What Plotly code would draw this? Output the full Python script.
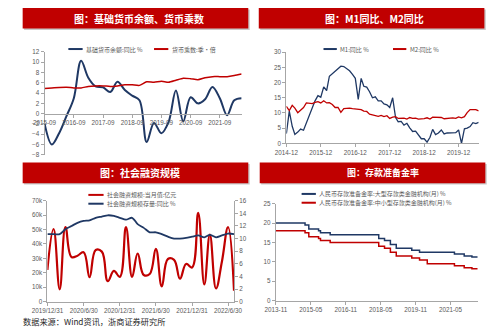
import plotly.graph_objects as go

W, H = 500, 333
NAVY = "#1F3864"
RED = "#C00000"
AXIS = "#A6A6A6"
TICKC = "#595959"
CJK = "Noto Sans CJK SC"
LAT = "Liberation Sans"


def months(y, m, n, step=1):
    out = []
    for _ in range(n):
        out.append(f"{y}-{m:02d}")
        m += step
        while m > 12:
            m -= 12
            y += 1
    return out


# ---- 基础货币余额、货币乘数 (quarterly, 2015-09 .. 2022-06)
base_yoy = [-1.9, -6.0, -3.8, -0.5, 3.0, 10.3, 7.0, 5.3, 5.1, 4.2, 6.2, 4.6, 3.5, 2.6,
            -5.5, -1.8, -3.8, -1.6, 4.5, -1.5, 3.2, 2.0, 2.8, 5.2, 3.0, -0.3, 2.6, 3.0]
multiplier = [4.9, 5.0, 5.1, 5.15, 5.0, 5.0, 5.3, 5.4, 5.4, 5.3, 5.4, 5.6, 5.6, 5.5,
              6.2, 6.1, 6.3, 6.1, 6.5, 6.9, 6.8, 6.6, 7.0, 7.2, 7.2, 7.2, 7.4, 7.7]
p1_dates = months(2015, 9, len(base_yoy), 3)
p1_ticks = ["2015-09", "2016-09", "2017-09", "2018-09", "2019-09", "2020-09", "2021-09"]

# ---- M1 / M2 同比 (monthly, 2014-12 .. 2020-07)
m1_yoy = [3.2,
          10.6, 5.6, 2.9, 3.7, 4.7, 4.3, 6.6, 9.3, 11.4, 14.0, 15.7, 15.2,
          18.6, 17.4, 22.1, 22.9, 23.7, 24.6, 25.4, 25.3, 24.7, 23.9, 22.7, 21.4,
          14.5, 21.4, 18.8, 18.5, 17.0, 15.0, 15.3, 14.0, 14.0, 13.0, 12.7, 11.8,
          15.0, 8.5, 7.1, 7.2, 6.0, 6.6, 5.1, 3.9, 4.0, 2.7, 1.5, 1.5,
          0.4, 2.0, 4.6, 2.9, 3.4, 4.4, 3.1, 3.4, 3.4, 3.3, 3.5, 4.4,
          0.0, 4.8, 5.0, 5.5, 6.8, 6.5, 6.9]
m2_yoy = [12.2,
          10.8, 12.5, 11.6, 10.1, 10.8, 11.8, 13.3, 13.3, 13.1, 13.5, 13.7, 13.3,
          14.0, 13.3, 13.4, 12.8, 11.8, 11.8, 10.2, 11.4, 11.5, 11.6, 11.4, 11.3,
          11.3, 11.1, 10.6, 10.5, 9.6, 9.4, 9.2, 8.9, 9.2, 8.8, 9.1, 8.2,
          8.6, 8.8, 8.2, 8.3, 8.3, 8.0, 8.5, 8.2, 8.3, 8.0, 8.0, 8.1,
          8.4, 8.0, 8.6, 8.5, 8.5, 8.5, 8.1, 8.2, 8.4, 8.4, 8.2, 8.7,
          8.4, 8.8, 10.1, 11.1, 11.1, 11.1, 10.7]
p2_dates = months(2014, 12, len(m1_yoy))
p2_ticks = ["2014-12", "2015-12", "2016-12", "2017-12", "2018-12", "2019-12"]

# ---- 社会融资规模 (monthly, 2019-12 .. 2022-07)
tsf_flow = [22000,
            50400, 8554, 51800, 30900, 31900, 34300, 16900, 35800, 34700, 14200, 21300, 17200,
            51700, 17100, 33400, 18500, 19200, 36700, 10600, 29600, 29000, 15900, 26100, 23700,
            61700, 11900, 46500, 9100, 27900, 51700, 7561]
tsf_yoy = [10.7,
           10.7, 10.7, 11.5, 12.0, 12.5, 12.8, 12.9, 13.3, 13.5, 13.7, 13.6, 13.3,
           13.0, 13.3, 12.3, 11.7, 11.0, 11.0, 10.7, 10.3, 10.0, 10.0, 10.1, 10.3,
           10.5, 10.2, 10.6, 10.2, 10.5, 10.8, 10.7]
p3_dates = months(2019, 12, len(tsf_flow))
p3_tickvals = ["2019-12", "2020-06", "2020-12", "2021-06", "2021-12", "2022-06"]
p3_ticktext = ["2019/12/31", "2020/6/30", "2020/12/31", "2021/6/30", "2021/12/31", "2022/6/30"]

# ---- 存款准备金率 (step changes, 2013-11 .. 2022-07)
rrr_large_dates = ["2013-11", "2015-02", "2015-04", "2015-09", "2015-10", "2016-03", "2018-04",
                   "2018-07", "2018-10", "2019-01", "2019-09", "2020-01", "2021-07", "2021-12",
                   "2022-04", "2022-07"]
rrr_large = [20, 19.5, 18.5, 18, 17.5, 17, 16, 15.5, 14.5, 13.5, 13, 12.5, 12, 11.5, 11.25, 11.25]
rrr_small_dates = ["2013-11", "2015-02", "2015-04", "2015-09", "2015-10", "2016-03", "2018-04",
                   "2018-07", "2018-10", "2019-01", "2019-09", "2020-01", "2020-05", "2021-07",
                   "2021-12", "2022-04", "2022-07"]
rrr_small = [18, 17.5, 16.5, 16, 15.5, 15, 14, 13.5, 12.5, 11.5, 11, 10.5, 9.5, 9, 8.5, 8.25, 8.25]
p4_ticks = ["2013-11", "2015-05", "2016-11", "2018-05", "2019-11", "2021-05"]

titles = ["图：基础货币余额、货币乘数", "图：M1同比、M2同比", "图：社会融资规模", "图：存款准备金率"]
names = {
    "base": "基础货币余额:同比 %", "mult": "货币乘数:季·倍",
    "m1": "M1:同比 %", "m2": "M2:同比 %",
    "flow": "社会融资规模:当月值:亿元", "stock": "社会融资规模存量:同比 %",
    "large": "人民币存款准备金率:大型存款类金融机构(月) %",
    "small": "人民币存款准备金率:中小型存款类金融机构(月) %",
}


def X(px):
    return px / W


def Y(py):
    return 1 - py / H


fig = go.Figure()

fig.add_trace(go.Scatter(x=p1_dates, y=base_yoy, mode="lines", name=names["base"],
                         line=dict(color=NAVY, width=2, shape="spline", smoothing=1.0),
                         xaxis="x", yaxis="y"))
fig.add_trace(go.Scatter(x=p1_dates, y=multiplier, mode="lines", name=names["mult"],
                         line=dict(color=RED, width=1.5, shape="spline", smoothing=0.6),
                         xaxis="x", yaxis="y"))
fig.add_trace(go.Scatter(x=p2_dates, y=m1_yoy, mode="lines", name=names["m1"],
                         line=dict(color=NAVY, width=1.3), xaxis="x2", yaxis="y2"))
fig.add_trace(go.Scatter(x=p2_dates, y=m2_yoy, mode="lines", name=names["m2"],
                         line=dict(color=RED, width=1.3), xaxis="x2", yaxis="y2"))
fig.add_trace(go.Scatter(x=p3_dates, y=tsf_flow, mode="lines", name=names["flow"],
                         line=dict(color=RED, width=2.2, shape="spline", smoothing=1.2),
                         xaxis="x3", yaxis="y3"))
fig.add_trace(go.Scatter(x=p3_dates, y=tsf_yoy, mode="lines", name=names["stock"],
                         line=dict(color=NAVY, width=1.8, shape="spline", smoothing=0.8),
                         xaxis="x3", yaxis="y4"))
fig.add_trace(go.Scatter(x=rrr_large_dates, y=rrr_large, mode="lines", name=names["large"],
                         line=dict(color=NAVY, width=1.5, shape="hv"), xaxis="x4", yaxis="y5"))
fig.add_trace(go.Scatter(x=rrr_small_dates, y=rrr_small, mode="lines", name=names["small"],
                         line=dict(color=RED, width=1.5, shape="hv"), xaxis="x4", yaxis="y5"))

tickfont = dict(family=LAT, size=6.3, color=TICKC)
common = dict(showline=True, linecolor=AXIS, linewidth=1, ticks="outside", ticklen=3,
              tickcolor=AXIS, showgrid=False, zeroline=False, tickfont=tickfont,
              fixedrange=True)

# panel domains (px)
d1x, d1y = [X(30), X(237)], [Y(154), Y(49)]
d2x, d2y = [X(284), X(486)], [Y(142.3), Y(49.3)]
d3x, d3y = [X(33), X(229)], [Y(304), Y(201)]
d4x, d4y = [X(273), X(485)], [Y(303), Y(204)]

y1_range = [-8, 12]
zero_pos = d1y[0] + (0 - y1_range[0]) / (y1_range[1] - y1_range[0]) * (d1y[1] - d1y[0])

fig.update_layout(
    width=W, height=H, margin=dict(l=0, r=0, t=0, b=0),
    paper_bgcolor="white", plot_bgcolor="white", showlegend=False,
    font=dict(family=CJK),
    xaxis=dict(domain=d1x, type="date", range=[p1_dates[0], p1_dates[-1]],
               tickvals=p1_ticks, ticktext=p1_ticks, anchor="free", position=zero_pos, **common),
    yaxis=dict(domain=d1y, range=y1_range, dtick=2, anchor="x", **common),
    xaxis2=dict(domain=d2x, type="date", range=[p2_dates[0], p2_dates[-1]],
                tickvals=p2_ticks, ticktext=p2_ticks, anchor="y2", **common),
    yaxis2=dict(domain=d2y, range=[0, 30], dtick=5, anchor="x2", **common),
    xaxis3=dict(domain=d3x, type="date", range=[p3_dates[0], p3_dates[-1]],
                tickvals=p3_tickvals, ticktext=p3_ticktext, anchor="y3", **common),
    yaxis3=dict(domain=d3y, range=[0, 70000], dtick=10000, anchor="x3", **common),
    yaxis4=dict(range=[0, 16], dtick=2, overlaying="y3", side="right", anchor="x3", **common),
    xaxis4=dict(domain=d4x, type="date", range=[rrr_large_dates[0], rrr_large_dates[-1]],
                tickvals=p4_ticks, ticktext=p4_ticks, anchor="y5", **common),
    yaxis5=dict(domain=d4y, range=[0, 25], dtick=5, anchor="x4", **common),
)

# title banners
banners = [(7, 244, 4, 25), (255, 492, 4, 25), (7, 244, 162, 183), (256, 493, 162, 183)]
title_sizes = [10, 10, 10, 9]
title_cx = [129, 377, 130, 385]
shapes = []
annotations = []
for (x0, x1, y0, y1), t, fs, cx in zip(banners, titles, title_sizes, title_cx):
    shapes.append(dict(type="rect", xref="paper", yref="paper", x0=X(x0 + 1.5), x1=X(x1 + 1.5),
                       y0=Y(y1 + 1.5), y1=Y(y0 + 1.5), fillcolor="#C9C9C9", line=dict(width=0),
                       layer="below"))
    shapes.append(dict(type="rect", xref="paper", yref="paper", x0=X(x0), x1=X(x1),
                       y0=Y(y1), y1=Y(y0), fillcolor="#C00000", line=dict(width=0),
                       layer="below"))
    annotations.append(dict(text=f"<b>{t}</b>", xref="paper", yref="paper", x=X(cx),
                            y=Y((y0 + y1) / 2), xanchor="center", yanchor="middle",
                            showarrow=False, font=dict(family=CJK, size=fs, color="white")))

# legend keys: (sample x0, x1, y, color, label)
legend_items = [
    (55, 70, 46, NAVY, names["base"]), (145, 160, 46, RED, names["mult"]),
    (323, 337, 46, NAVY, names["m1"]), (396, 410, 46, RED, names["m2"]),
    (76, 92, 195, RED, names["flow"]), (76, 92, 204, NAVY, names["stock"]),
    (300, 315, 194, NAVY, names["large"]), (300, 315, 203, RED, names["small"]),
]
for x0, x1, yy, col, lab in legend_items:
    shapes.append(dict(type="line", xref="paper", yref="paper", x0=X(x0), x1=X(x1),
                       y0=Y(yy), y1=Y(yy), line=dict(color=col, width=2)))
    annotations.append(dict(text=lab, xref="paper", yref="paper", x=X(x1 + 1.5), y=Y(yy),
                            xanchor="left", yanchor="middle", showarrow=False,
                            font=dict(family=CJK, size=6, color=TICKC)))

annotations.append(dict(text="数据来源：Wind资讯，浙商证券研究所", xref="paper", yref="paper",
                        x=X(5), y=Y(324), xanchor="left", yanchor="middle", showarrow=False,
                        font=dict(family=CJK, size=8.2, color="#262626")))

fig.update_layout(shapes=shapes, annotations=annotations)
fig.write_html("out.html")
